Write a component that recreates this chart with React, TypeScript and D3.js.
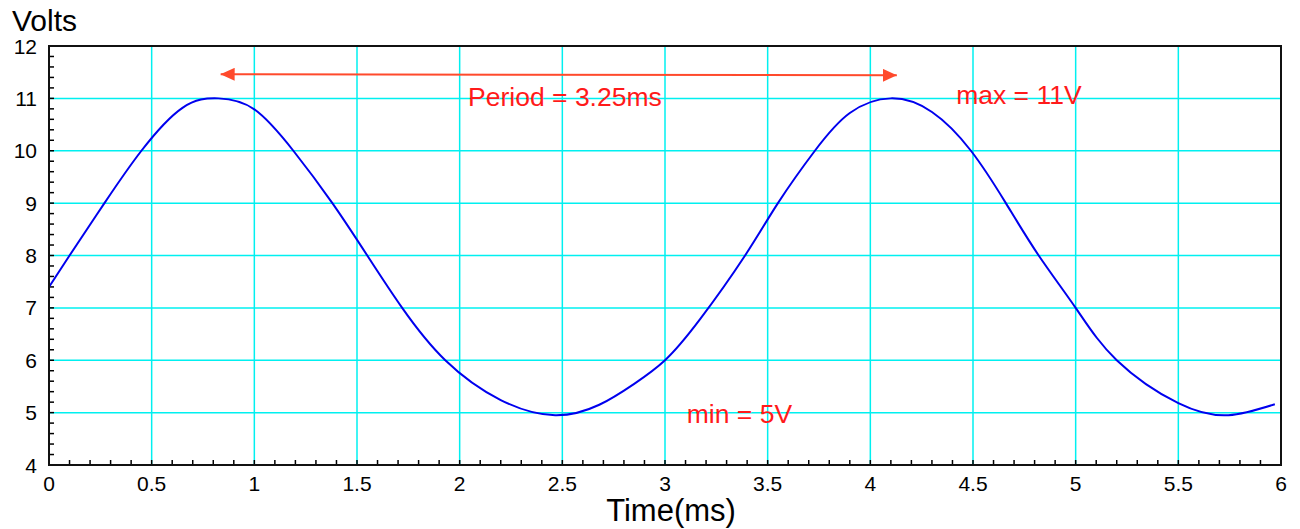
import { useEffect, useRef } from 'react';
import * as d3 from 'd3';

// Readings of the waveform (time in ms, volts)
const times = [0, 0.10, 0.27, 0.45, 0.65, 0.825, 1.00, 1.19, 1.38, 1.55, 1.72, 1.93, 2.20, 2.465, 2.68, 2.85, 3.00, 3.17, 3.39, 3.55, 3.73, 3.90, 4.10, 4.30, 4.49, 4.66, 4.82, 5.00, 5.20, 5.50, 5.744, 5.97];
const volts = [7.40, 8.00, 9.00, 10.00, 10.82, 11.00, 10.79, 10.00, 9.00, 8.00, 7.00, 6.00, 5.24, 4.95, 5.15, 5.55, 6.00, 6.78, 8.00, 9.00, 10.00, 10.72, 11.00, 10.74, 10.00, 9.00, 8.00, 7.00, 6.00, 5.18, 4.95, 5.16];

const x_ticks = [0, 0.5, 1, 1.5, 2, 2.5, 3, 3.5, 4, 4.5, 5, 5.5, 6];
const y_ticks = [4, 5, 6, 7, 8, 9, 10, 11, 12];

// annotation anchors, in data units
const arrow_start = [0.836, 11.46];
const arrow_end = [4.129, 11.44];
const note_texts = ['Period = 3.25ms', 'max = 11V', 'min = 5V'];
const note_times = [2.041, 4.418, 3.106];
const note_volts = [10.85, 10.90, 4.80];

const WIDTH = 1300, HEIGHT = 529;
const margin = { left: 49, right: 19, top: 46, bottom: 64 };
const FONT = '"Liberation Sans", Arial, Helvetica, sans-serif';
const RED = '#ff1a1a';
const ARROW = '#ff4a2c';

function render_chart(svg_el: SVGSVGElement) {
    const svg = d3.select(svg_el);
    svg.selectAll('*').remove();

    const x = d3.scaleLinear().domain([0, 6]).range([margin.left, WIDTH - margin.right]);
    const y = d3.scaleLinear().domain([4, 12]).range([HEIGHT - margin.bottom, margin.top]);
    const [x0, x1] = x.range();
    const [y0, y1] = y.range();

    // grid
    const grid = svg.append('g').attr('stroke', '#00f0f0').attr('stroke-width', 1.5);
    grid.selectAll('line.vx')
        .data(x_ticks.slice(1, -1))
        .enter().append('line')
        .attr('x1', d => x(d)).attr('x2', d => x(d))
        .attr('y1', y1).attr('y2', y0);
    grid.selectAll('line.hy')
        .data(y_ticks.slice(1, -1))
        .enter().append('line')
        .attr('x1', x0).attr('x2', x1)
        .attr('y1', d => y(d)).attr('y2', d => y(d));

    // minor ticks, pointing inward
    const x_minor = d3.range(1, 60).map(i => i / 10);
    const y_minor = d3.range(1, 40).map(i => 4 + i / 5);
    const ticks = svg.append('g').attr('stroke', 'black').attr('stroke-width', 1.5);
    ticks.selectAll('line.tx')
        .data(x_minor)
        .enter().append('line')
        .attr('x1', d => x(d)).attr('x2', d => x(d))
        .attr('y1', y0).attr('y2', y0 - 5);
    ticks.selectAll('line.ty')
        .data(y_minor)
        .enter().append('line')
        .attr('x1', x0).attr('x2', x0 + 5)
        .attr('y1', d => y(d)).attr('y2', d => y(d));

    // waveform
    const points: [number, number][] = times.map((t, i) => [t, volts[i]]);
    const line = d3.line<[number, number]>()
        .x(d => x(d[0]))
        .y(d => y(d[1]))
        .curve(d3.curveNatural);
    svg.append('path')
        .attr('d', line(points))
        .attr('fill', 'none')
        .attr('stroke', '#0000ee')
        .attr('stroke-width', 2);

    // frame
    svg.append('rect')
        .attr('x', x0).attr('y', y1)
        .attr('width', x1 - x0).attr('height', y0 - y1)
        .attr('fill', 'none')
        .attr('stroke', '#111')
        .attr('stroke-width', 2);

    // tick labels
    svg.append('g')
        .selectAll('text')
        .data(x_ticks)
        .enter().append('text')
        .attr('x', d => x(d))
        .attr('y', y0 + 26)
        .attr('text-anchor', 'middle')
        .style('font-family', FONT)
        .style('font-size', '21px')
        .text(d => d3.format('~g')(d));
    svg.append('g')
        .selectAll('text')
        .data(y_ticks)
        .enter().append('text')
        .attr('x', x0 - 12)
        .attr('y', d => y(d))
        .attr('dy', '0.36em')
        .attr('text-anchor', 'end')
        .style('font-family', FONT)
        .style('font-size', '21px')
        .text(d => d);

    // axis titles
    svg.append('text')
        .attr('x', 12).attr('y', 31)
        .style('font-family', FONT)
        .style('font-size', '30px')
        .text('Volts');
    svg.append('text')
        .attr('x', (x0 + x1) / 2 + 6).attr('y', 521)
        .attr('text-anchor', 'middle')
        .style('font-family', FONT)
        .style('font-size', '31px')
        .text('Time(ms)');

    // period arrow
    const defs = svg.append('defs');
    defs.append('marker')
        .attr('id', 'arrowhead')
        .attr('viewBox', '0 0 14 13')
        .attr('refX', 14).attr('refY', 6.5)
        .attr('markerWidth', 14).attr('markerHeight', 13)
        .attr('markerUnits', 'userSpaceOnUse')
        .attr('orient', 'auto-start-reverse')
        .append('path')
        .attr('d', 'M0,0 L14,6.5 L0,13 Z')
        .attr('fill', ARROW);
    svg.append('line')
        .attr('x1', x(arrow_start[0])).attr('y1', y(arrow_start[1]))
        .attr('x2', x(arrow_end[0])).attr('y2', y(arrow_end[1]))
        .attr('stroke', ARROW)
        .attr('stroke-width', 2)
        .attr('marker-start', 'url(#arrowhead)')
        .attr('marker-end', 'url(#arrowhead)');

    // red notes
    svg.append('g')
        .selectAll('text')
        .data(note_texts)
        .enter().append('text')
        .attr('x', (d, i) => x(note_times[i]))
        .attr('y', (d, i) => y(note_volts[i]))
        .attr('fill', RED)
        .style('font-family', FONT)
        .style('font-size', '26.5px')
        .text(d => d);
}

const App = () => {
    const ref = useRef<SVGSVGElement>(null);

    useEffect(() => {
        if (ref.current) render_chart(ref.current);
    }, []);

    return (
        <svg ref={ref} width={WIDTH} height={HEIGHT}
            style={{ position: 'absolute', left: 0, top: 0, display: 'block', background: 'white' }} />
    );
};

export default App;
